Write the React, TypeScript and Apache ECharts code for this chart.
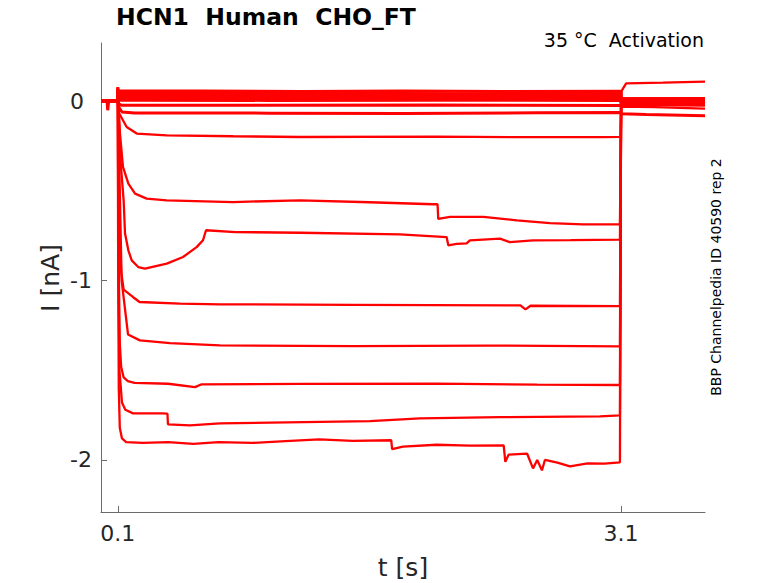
import React, { useEffect, useRef } from "react";
import * as echarts from "echarts";

// Axis ticks
const xTickValues = [0.1, 3.1];
const xTickLabels = ["0.1", "3.1"];
const yTickValues = [-2, -1, 0];
const yTickLabels = ["-2", "-1", "0"];

// Texts
const titleText = "HCN1  Human  CHO_FT";
const conditionText = "35 °C  Activation";
const sourceText = "BBP Channelpedia ID 40590 rep 2";
const xName = "t [s]";
const yName = "I [nA]";

// Current traces [t (s), I (nA)]
const trace1 = [[0, 0.004], [0.036, 0.004], [0.04, -0.05], [0.046, 0.002], [0.098, 0.004], [0.1, 0.078], [0.103, 0.058], [0.6, 0.057], [1.2, 0.055], [1.8, 0.057], [2.4, 0.054], [3.098, 0.056], [3.1, 0.014], [3.6, 0.016]];
const trace2 = [[0, 0.004], [0.098, 0.004], [0.1, 0.07], [0.103, 0.044], [0.7, 0.043], [1.4, 0.045], [2.1, 0.042], [3.098, 0.043], [3.1, 0.008], [3.6, 0.01]];
const trace3 = [[0, 0.003], [0.098, 0.003], [0.1, 0.065], [0.103, 0.031], [0.8, 0.03], [1.6, 0.032], [2.4, 0.029], [3.098, 0.03], [3.1, 0.002], [3.6, 0.003]];
const trace4 = [[0, 0.002], [0.098, 0.002], [0.1, 0.06], [0.103, 0.018], [0.9, 0.017], [1.7, 0.019], [2.5, 0.016], [3.098, 0.017], [3.1, -0.006], [3.6, -0.006]];
const trace5 = [[0, 0.002], [0.098, 0.002], [0.1, 0.055], [0.104, 0.006], [1.0, 0.005], [2.0, 0.006], [3.098, 0.004], [3.1, -0.012], [3.6, -0.013]];
const trace6 = [[0, 0.002], [0.098, 0.002], [0.1, 0.05], [0.104, -0.012], [0.12, -0.022], [1.0, -0.022], [2.0, -0.021], [3.098, -0.023], [3.1, -0.018], [3.6, -0.022]];
const trace7 = [[0, 0.002], [0.098, 0.002], [0.1, 0.05], [0.104, -0.03], [0.125, -0.06], [0.2, -0.065], [1.0, -0.066], [1.8, -0.068], [2.6, -0.064], [3.098, -0.062], [3.1, -0.07], [3.25, -0.074], [3.6, -0.08]];
const trace8 = [[0, 0.002], [0.098, 0.002], [0.1, 0.05], [0.104, -0.06], [0.153, -0.143], [0.213, -0.18], [0.392, -0.19], [0.788, -0.195], [1.186, -0.199], [2.0, -0.197], [2.5, -0.2], [3.0, -0.2], [3.098, -0.198], [3.1, -0.03], [3.3, -0.033], [3.6, -0.041]];
const trace9 = [[0, 0.002], [0.098, 0.002], [0.1, 0.05], [0.113, -0.18], [0.131, -0.366], [0.163, -0.459], [0.203, -0.515], [0.272, -0.543], [0.392, -0.552], [0.787, -0.562], [1.186, -0.552], [1.6, -0.563], [1.98, -0.574], [2.006, -0.574], [2.01, -0.656], [2.08, -0.645], [2.28, -0.645], [2.479, -0.664], [2.676, -0.679], [2.872, -0.686], [3.093, -0.686], [3.1, -0.01], [3.6, -0.008]];
const trace10 = [[0, 0.002], [0.098, 0.002], [0.1, 0.05], [0.119, -0.366], [0.135, -0.552], [0.143, -0.736], [0.163, -0.831], [0.183, -0.887], [0.222, -0.924], [0.262, -0.933], [0.392, -0.905], [0.489, -0.868], [0.57, -0.813], [0.608, -0.775], [0.626, -0.719], [0.8, -0.729], [1.186, -0.733], [1.782, -0.742], [2.06, -0.757], [2.07, -0.803], [2.12, -0.795], [2.179, -0.792], [2.199, -0.775], [2.378, -0.766], [2.437, -0.785], [2.575, -0.775], [2.8, -0.774], [3.093, -0.771], [3.1, -0.004], [3.6, -0.003]];
const trace11 = [[0, 0.002], [0.098, 0.002], [0.1, 0.05], [0.104, -0.3], [0.11, -0.7], [0.12, -0.95], [0.135, -1.05], [0.19, -1.091], [0.23, -1.119], [0.47, -1.128], [0.71, -1.132], [1.5, -1.135], [2.5, -1.138], [2.53, -1.16], [2.56, -1.14], [3.093, -1.142], [3.1, 0.001], [3.6, 0.002]];
const trace12 = [[0, 0.002], [0.098, 0.002], [0.1, 0.05], [0.123, -1.0], [0.161, -1.3], [0.232, -1.333], [0.411, -1.348], [0.709, -1.361], [1.5, -1.365], [2.3, -1.362], [3.093, -1.366], [3.1, 0.005], [3.6, 0.006]];
const trace13 = [[0, 0.002], [0.098, 0.002], [0.1, 0.05], [0.104, -0.8], [0.112, -1.35], [0.12, -1.48], [0.135, -1.54], [0.16, -1.56], [0.2, -1.57], [0.4, -1.575], [0.56, -1.594], [0.6, -1.578], [1.2, -1.576], [2.0, -1.574], [2.6, -1.58], [3.093, -1.582], [3.1, 0.009], [3.6, 0.01]];
const trace14 = [[0, 0.002], [0.098, 0.002], [0.1, 0.05], [0.104, -1.0], [0.11, -1.5], [0.125, -1.68], [0.145, -1.72], [0.191, -1.74], [0.364, -1.74], [0.396, -1.742], [0.399, -1.801], [0.53, -1.807], [0.709, -1.796], [1.603, -1.783], [1.901, -1.768], [2.378, -1.761], [2.974, -1.757], [3.093, -1.751], [3.1, 0.016], [3.6, 0.018]];
const trace15 = [[0, 0.003], [0.098, 0.003], [0.1, 0.08], [0.102, -0.8], [0.106, -1.6], [0.112, -1.82], [0.125, -1.88], [0.15, -1.9], [0.25, -1.905], [0.4, -1.9], [0.55, -1.91], [0.7, -1.9], [0.9, -1.905], [1.1, -1.895], [1.3, -1.885], [1.5, -1.893], [1.73, -1.89], [1.735, -1.94], [1.8, -1.925], [2.0, -1.915], [2.2, -1.92], [2.4, -1.918], [2.41, -2.01], [2.43, -1.97], [2.54, -1.965], [2.575, -2.047], [2.6, -2.0], [2.628, -2.058], [2.646, -2.0], [2.72, -2.015], [2.795, -2.036], [2.9, -2.019], [3.0, -2.02], [3.093, -2.013], [3.1, 0.0], [3.104, 0.06], [3.13, 0.1], [3.35, 0.104], [3.6, 0.11]];

const traces = [trace1, trace2, trace3, trace4, trace5, trace6, trace7, trace8, trace9, trace10, trace11, trace12, trace13, trace14, trace15];

const FONT = "DejaVu Sans";
const TEXT = "#262626";
const AXIS = "#6b6b6b";

export default function App() {
  const ref = useRef<HTMLDivElement>(null);
  useEffect(() => {
    if (!ref.current) return;
    const chart = echarts.init(ref.current, undefined, { renderer: "svg" });
    chart.setOption({
      animation: false,
      backgroundColor: "#ffffff",
      grid: { left: 101, right: 73, top: 43, bottom: 71, containLabel: false },
      xAxis: {
        type: "value",
        min: 0,
        max: 3.6,
        axisLine: { show: true, onZero: false, lineStyle: { color: AXIS, width: 1 } },
        axisTick: { show: true, inside: true, length: 6, customValues: xTickValues, lineStyle: { color: AXIS } },
        axisLabel: {
          show: true,
          customValues: xTickValues,
          formatter: (v: number) => {
            const i = xTickValues.findIndex((x) => Math.abs(x - v) < 1e-9);
            return i >= 0 ? xTickLabels[i] : "";
          },
          margin: 10,
          fontFamily: FONT,
          fontSize: 22,
          color: TEXT,
        },
        splitLine: { show: false },
      },
      yAxis: {
        type: "value",
        min: -2.29,
        max: 0.325,
        axisLine: { show: true, onZero: false, lineStyle: { color: AXIS, width: 1 } },
        axisTick: { show: true, inside: true, length: 6, customValues: yTickValues, lineStyle: { color: AXIS } },
        axisLabel: {
          show: true,
          customValues: yTickValues,
          formatter: (v: number) => {
            const i = yTickValues.findIndex((x) => Math.abs(x - v) < 1e-9);
            return i >= 0 ? yTickLabels[i] : "";
          },
          align: "left",
          margin: 31,
          fontFamily: FONT,
          fontSize: 22,
          color: TEXT,
        },
        splitLine: { show: false },
      },
      series: traces.map((d, i) => ({
        type: "line",
        name: "trace" + (i + 1),
        data: d,
        showSymbol: false,
        symbol: "none",
        lineStyle: { color: "#ff0000", width: i < 7 ? 3 : 2.3 },
        z: 2,
      })),
      graphic: [
        {
          type: "text",
          x: 116,
          y: 17,
          style: { text: titleText, font: `bold 23.5px '${FONT}'`, fill: "#000000", textAlign: "left", textVerticalAlign: "middle" },
        },
        {
          type: "text",
          x: 704,
          y: 40,
          style: { text: conditionText, font: `19px '${FONT}'`, fill: "#000000", textAlign: "right", textVerticalAlign: "middle" },
        },
        {
          type: "text",
          x: 716,
          y: 277,
          rotation: Math.PI / 2,
          style: { text: sourceText, font: `14px '${FONT}'`, fill: "#000000", textAlign: "center", textVerticalAlign: "middle" },
        },
        {
          type: "text",
          x: 50,
          y: 278,
          rotation: Math.PI / 2,
          style: { text: yName, font: `25px '${FONT}'`, fill: TEXT, textAlign: "center", textVerticalAlign: "middle" },
        },
        {
          type: "text",
          x: 403,
          y: 567,
          style: { text: xName, font: `25px '${FONT}'`, fill: TEXT, textAlign: "center", textVerticalAlign: "middle" },
        },
      ],
    });
    return () => chart.dispose();
  }, []);
  return <div ref={ref} style={{ position: "fixed", left: 0, top: 0, width: 778, height: 583 }} />;
}
